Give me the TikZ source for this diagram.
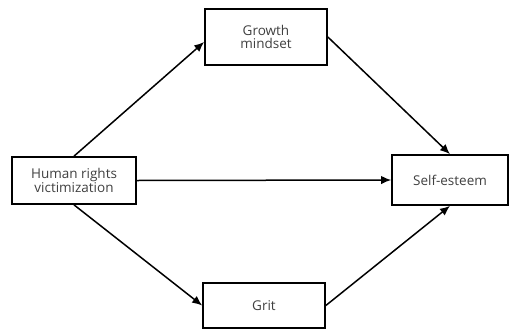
\documentclass[tikz,border=0pt]{standalone}
\usepackage{fontspec}
\setmainfont{Open Sans}
\usetikzlibrary{arrows.meta}
\begin{document}
\begin{tikzpicture}[x=1pt,y=-1pt,
  varbox/.style={draw=black,line width=1.7pt,fill=white,inner sep=0pt,align=center,font=\fontsize{13.5}{13}\selectfont,text=black!75},
  conn/.style={line width=1.5pt,-{Latex[length=10pt,width=8.5pt]}}]
\useasboundingbox (0,0) rectangle (515,330);
\node[varbox,minimum width=124pt,minimum height=47pt] (hr) at (74,180.5) {Human rights\\victimization};
\node[varbox,minimum width=122pt,minimum height=56pt] (gm) at (266,37) {Growth\\mindset};
\node[varbox,minimum width=116pt,minimum height=50pt] (se) at (450,180) {Self-esteem};
\node[varbox,minimum width=122pt,minimum height=45pt] (gr) at (264,305.5) {Grit};
\coordinate (gmL) at (gm.west |- 0,42);
\draw[conn] (hr.north) -- (gmL);
\draw[conn] (hr.south) -- (gr.west);
\draw[conn] (hr.east) -- (se.west);
\draw[conn] (gm.east) -- (se.north);
\draw[conn] (gr.east) -- (se.south);
\end{tikzpicture}
\end{document}
